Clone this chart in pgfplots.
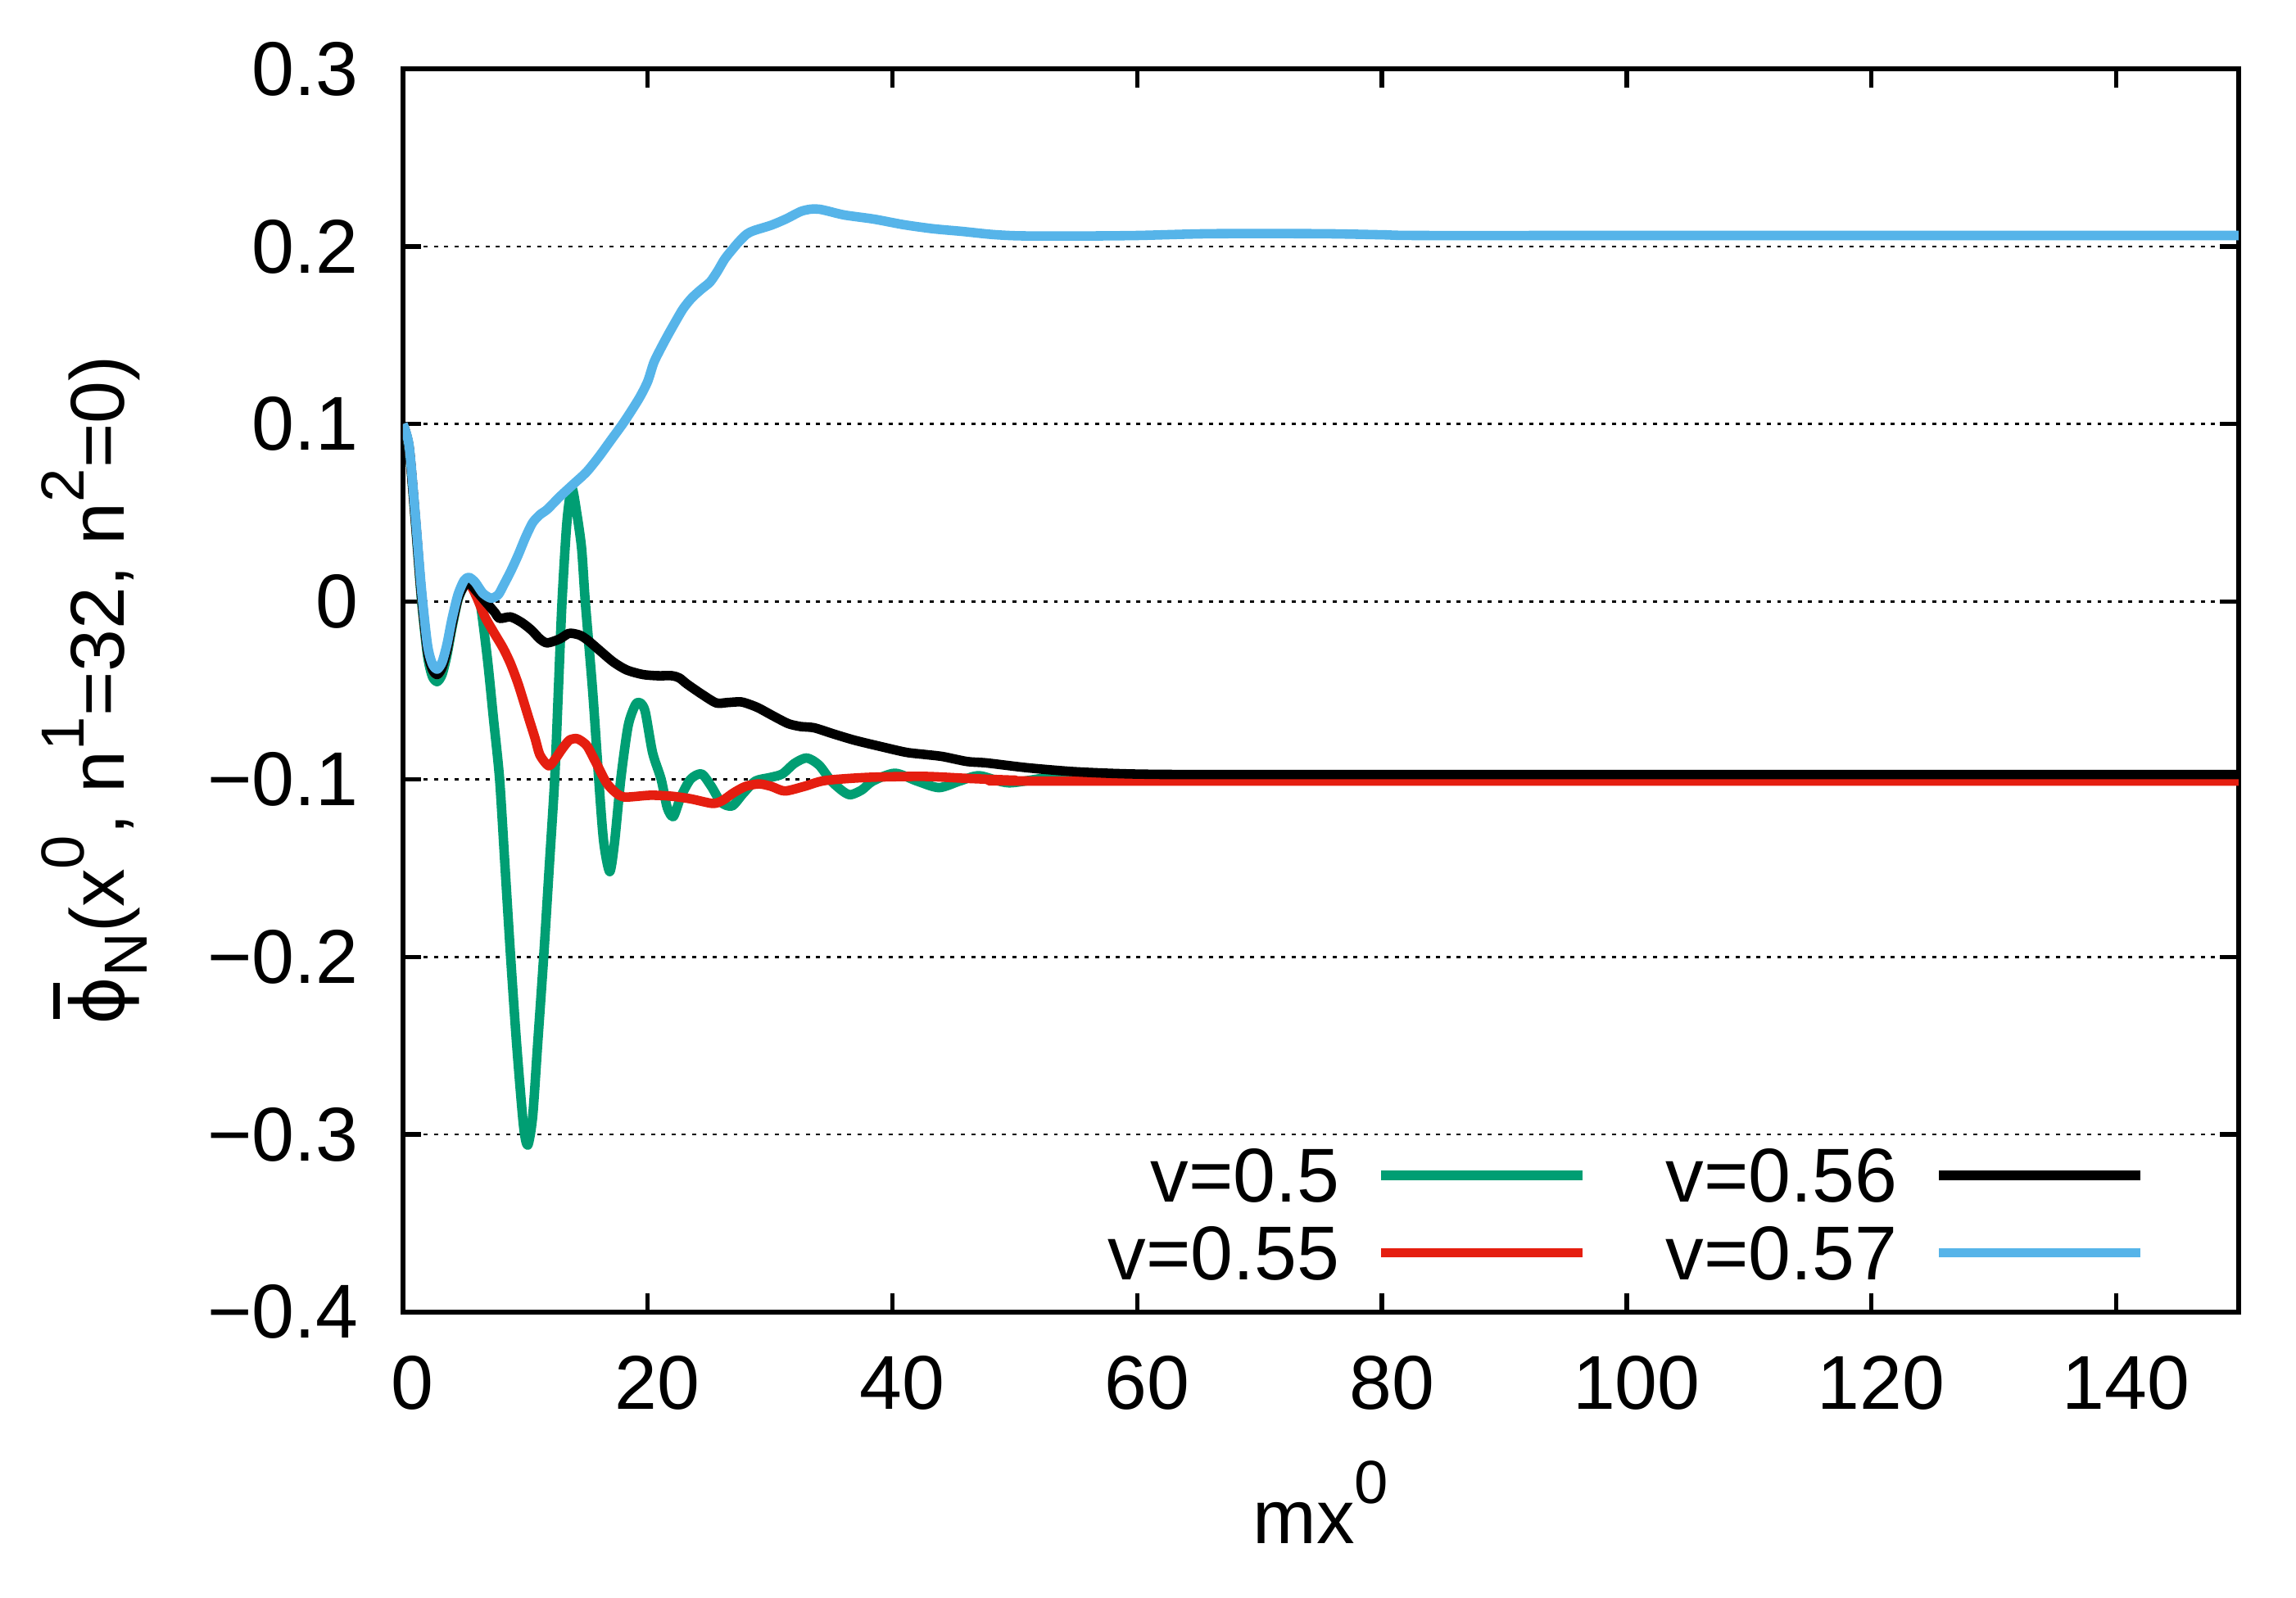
\documentclass[border=0pt]{standalone}
\usepackage{fontspec}
\setmainfont{Liberation Sans}
\newfontfamily\dejavu{DejaVu Sans}
\usepackage{pgfplots}
\pgfplotsset{compat=1.18}
\definecolor{cgreen}{HTML}{009E73}
\definecolor{cred}{HTML}{E51E10}
\definecolor{cblue}{HTML}{56B4E9}
\newcommand{\fs}{\fontsize{13.3}{16}\selectfont}
\newcommand{\sups}[1]{\raisebox{0.53em}{\fontsize{10.6}{12}\selectfont #1}}
\newcommand{\subs}[1]{\raisebox{-0.3em}{\fontsize{10.6}{12}\selectfont #1}}
\newcommand{\phibar}{\ooalign{{\dejavu\fontsize{12.8}{15}\selectfont ϕ}\cr\hidewidth\raisebox{11.3pt}{\rule{6.4pt}{1.1pt}}\hidewidth\cr}}
\begin{document}
\begin{tikzpicture}
\useasboundingbox (-70.2pt,-49.8pt) rectangle (329.8pt,228.6pt);
\begin{axis}[
  at={(0,0)}, anchor=south west,
  scale only axis, width=319.8pt, height=216.6pt,
  xmin=0, xmax=150, ymin=-0.4, ymax=0.3,
  xtick={0,20,40,60,80,100,120,140},
  xticklabels={0,20,40,60,80,100,120,140},
  ytick={-0.4,-0.3,-0.2,-0.1,0,0.1,0.2,0.3},
  yticklabels={−0.4,−0.3,−0.2,−0.1,0,0.1,0.2,0.3},
  tick label style={font=\fs},
  xticklabel style={yshift=-4.1pt, xshift=1.7pt},
  yticklabel style={xshift=-4.3pt},
  tick align=inside, tick pos=both,
  major tick length=3.2pt,
  major tick style={black, line width=0.75pt},
  axis line style={black, line width=0.75pt},
  ymajorgrids,
  grid style={black, line width=0.4pt, dash pattern=on 0.7pt off 1.1pt},
  xlabel={mx\sups{0}},
  ylabel={\phibar\subs{N}(x\sups{0}, n\sups{1}=32, n\sups{2}=0)},
  label style={font=\fs},
  xlabel style={at={(axis description cs:0.5,-0.1865)}, anchor=base},
  ylabel style={at={(axis description cs:-0.1517,0.5)}, anchor=base, rotate=0},
  legend columns=2, transpose legend,
  legend plot pos=right,
  legend cell align=right,
  legend image code/.code={\draw[#1] (0pt,0.8pt) -- (35pt,0.8pt);},
  legend style={at={(axis description cs:0.9495,0.0182)}, anchor=south east,
    draw=none, fill=none, inner sep=0pt, column sep=6.5pt, row sep=2.7pt,
    font=\fs, nodes={inner sep=0pt}},
  every axis plot/.append style={line width=1.65pt, line join=round, smooth, tension=0.45},
]
\addplot[cgreen] coordinates {
(0,0.100) (0.5,0.086) (1.0,0.046) (1.5,0.002) (2.0,-0.030) (2.4,-0.042) (2.8,-0.045) (3.2,-0.041) (3.6,-0.030) (4.0,-0.015) (4.5,0.001) (5.0,0.009) (5.4,0.011)
(5.9,0.006) (6.3,0.000) (6.9,-0.032) (7.4,-0.066) (7.9,-0.100) (8.35,-0.150) (8.8,-0.200) (9.3,-0.250) (9.85,-0.295) (10.2,-0.306) (10.6,-0.290) (11.0,-0.250) (11.5,-0.200) (11.95,-0.150) (12.4,-0.100) (12.7,-0.050) (13.0,0.000) (13.4,0.045) (13.8,0.064) (14.2,0.050) (14.6,0.030) (14.9,0.000)
(15.5,-0.050) (16.0,-0.100) (16.4,-0.135) (16.9,-0.152) (17.3,-0.135) (17.8,-0.100) (18.4,-0.070) (19.0,-0.058) (19.4,-0.057) (19.8,-0.062) (20.4,-0.085) (21.1,-0.100) (21.6,-0.116) (22.1,-0.121) (22.7,-0.110) (23.5,-0.100) (24.4,-0.097) (25.2,-0.104) (26.0,-0.113) (26.9,-0.115) (27.8,-0.108) (28.8,-0.101) (30.0,-0.099) (31.0,-0.097) (32.0,-0.091) (33.0,-0.088) (34.0,-0.092) (35.0,-0.101) (36.0,-0.107) (36.6,-0.1087) (37.5,-0.106) (38.4,-0.101) (40.2,-0.0966) (42.0,-0.101) (43.8,-0.1047) (45.5,-0.101) (47.1,-0.098) (49.5,-0.102) (52.9,-0.099) (56,-0.1005) (80,-0.1005) (150,-0.1005)
};
\addlegendentry{\makebox[41pt][r]{v=0.5}}
\addplot[cred] coordinates {
(0,0.100) (0.5,0.087) (1.0,0.048) (1.5,0.005) (2.0,-0.027) (2.4,-0.038) (2.8,-0.041) (3.2,-0.037) (3.6,-0.027) (4.0,-0.013) (4.5,0.002) (5.0,0.009) (5.4,0.0106)
(6.0,0.003) (6.7,-0.0085) (7.4,-0.017) (8.2,-0.0263) (8.8,-0.035) (9.4,-0.046) (9.9,-0.057) (10.3,-0.066) (10.8,-0.077) (11.2,-0.0864) (11.9,-0.0924) (12.4,-0.089) (13.0,-0.083) (13.6,-0.078) (14.2,-0.0771) (14.7,-0.079) (15.1,-0.0818) (15.8,-0.091) (16.6,-0.1016) (17.3,-0.107) (18.1,-0.110) (20.2,-0.109) (21.9,-0.1095) (23.5,-0.111) (25.3,-0.1136) (26.1,-0.112) (27.0,-0.1077) (28.0,-0.104) (29.1,-0.1026) (30.1,-0.104) (31.2,-0.1066) (32.8,-0.104) (34.5,-0.1007) (38.1,-0.0989) (42.6,-0.0984) (46.1,-0.0995) (50,-0.1005) (54.6,-0.101) (150,-0.101)
};
\addlegendentry{\makebox[41pt][r]{v=0.55}}
\addplot[black] coordinates {
(0,0.100) (0.5,0.087) (1.0,0.048) (1.5,0.005) (2.0,-0.027) (2.4,-0.038) (2.8,-0.041) (3.2,-0.037) (3.6,-0.027) (4.0,-0.013) (4.5,0.002) (5.0,0.009) (5.4,0.0106)
(6.0,0.006) (6.5,0.002) (7.0,-0.002) (7.5,-0.006) (7.9,-0.0094) (8.8,-0.0086) (9.7,-0.0117) (10.5,-0.016) (11.2,-0.021) (11.8,-0.0232) (12.8,-0.021) (13.5,-0.018) (13.9,-0.0179) (14.5,-0.019) (15.1,-0.0217) (16.0,-0.027) (17.2,-0.034) (18.3,-0.0385) (19.6,-0.041) (20.8,-0.0417) (22.0,-0.0417) (22.6,-0.043) (23.2,-0.0463) (24.4,-0.052) (25.6,-0.057) (26.5,-0.0568) (27.6,-0.0564) (28.4,-0.058) (29.1,-0.060) (30.3,-0.0645) (31.5,-0.0687) (32.5,-0.0703) (33.6,-0.071) (35.2,-0.0745) (36.9,-0.078) (39.0,-0.0815) (41.1,-0.0848) (42.6,-0.086) (44.1,-0.0872) (46.1,-0.090) (47.7,-0.0908) (51,-0.0935) (54.6,-0.0956) (58,-0.0967) (61.4,-0.0972) (70,-0.0973) (150,-0.0973)
};
\addlegendentry{\makebox[47.5pt][r]{v=0.56}}
\addplot[cblue] coordinates {
(0,0.100) (0.5,0.088) (1.0,0.050) (1.5,0.008) (2.0,-0.024) (2.4,-0.035) (2.8,-0.038) (3.2,-0.034) (3.6,-0.024) (4.0,-0.010) (4.5,0.004) (5.0,0.012) (5.4,0.0137)
(5.9,0.011) (6.5,0.005) (7.0,0.0025) (7.3,0.002) (7.8,0.004) (8.2,0.009) (8.8,0.017) (9.4,0.026) (10.0,0.036) (10.6,0.0445) (11.2,0.049) (11.8,0.052) (12.8,0.059) (13.9,0.066) (15.0,0.073) (16.0,0.0815) (17.0,0.091) (18.1,0.1015) (19.3,0.1145) (20.0,0.124) (20.5,0.1346) (21.1,0.143) (21.7,0.1507) (22.3,0.158) (22.9,0.165) (23.6,0.171) (24.4,0.176) (25.1,0.180) (25.7,0.186) (26.3,0.193) (27.0,0.199) (27.5,0.203) (28.1,0.207) (28.7,0.209) (30.1,0.212) (31.3,0.2155) (32.5,0.2197) (33.3,0.221) (34.0,0.221) (34.7,0.220) (36.1,0.2177) (38.5,0.2154) (40.9,0.2123) (43.3,0.210) (45.7,0.2085) (48.1,0.2068) (50.4,0.2060) (55,0.2059) (60,0.2062) (66,0.2072) (75,0.2072) (80,0.2066) (83,0.2062) (100,0.2062) (150,0.2062)
};
\addlegendentry{\makebox[47.5pt][r]{v=0.57}}
\end{axis}
\end{tikzpicture}
\end{document}
